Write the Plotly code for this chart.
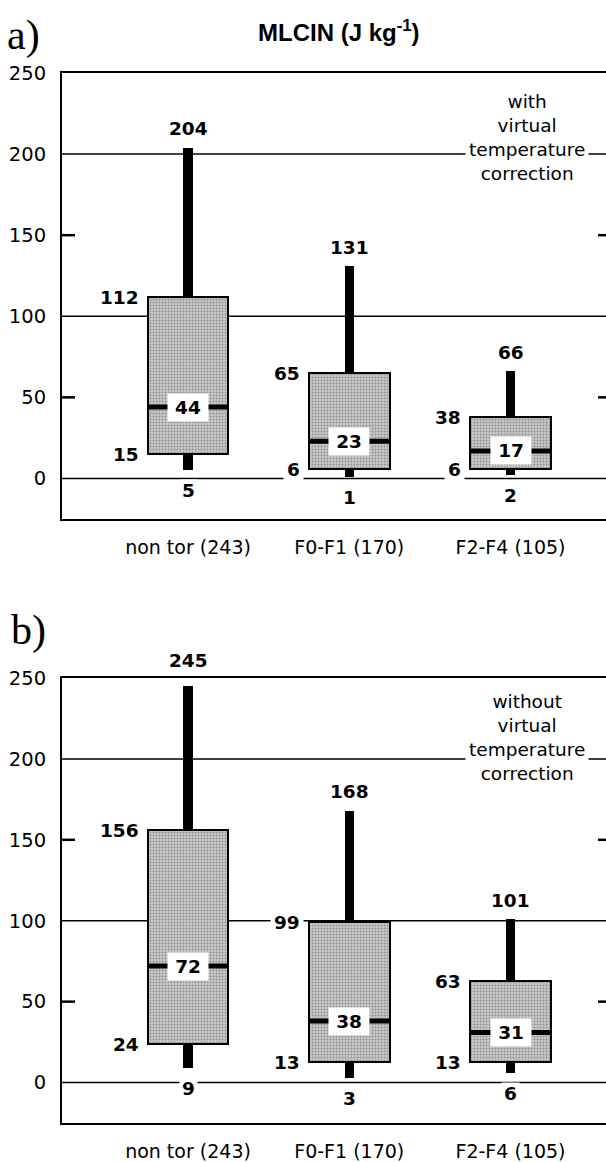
import plotly.graph_objects as go

# ---------------- data ----------------
categories = ["non tor (243)", "F0-F1 (170)", "F2-F4 (105)"]
ytick_vals = [0, 50, 100, 150, 200, 250]
grid_vals = [0, 100, 200]
minor_tick_vals = [50, 150]

# panel a) with virtual temperature correction
a_low = [5, 1, 2]
a_q1 = [15, 6, 6]
a_med = [44, 23, 17]
a_q3 = [112, 65, 38]
a_high = [204, 131, 66]

# panel b) without virtual temperature correction
b_low = [9, 3, 6]
b_q1 = [24, 13, 13]
b_med = [72, 38, 31]
b_q3 = [156, 99, 63]
b_high = [245, 168, 101]

# ---------------- layout constants ----------------
W, H = 606, 1162
ML = 62
PLOT_W = W - ML
PX_PER_CAT = 161.25
X0 = -(188 - ML) / PX_PER_CAT
X_RANGE = [X0, X0 + PLOT_W / PX_PER_CAT]
Y_RANGE = [-25, 250]

SANS = "DejaVu Sans"
BOLD_SIZE = 18.5


def px_x(px):
    return (px - ML) / PLOT_W


def px_y(py):
    return 1 - py / H


fig = go.Figure()

panels = [
    dict(xa="x", ya="y", low=a_low, q1=a_q1, med=a_med, q3=a_q3, high=a_high,
         top=73, bottom=519, note="with<br>virtual<br>temperature<br>correction", note_y=210),
    dict(xa="x2", ya="y2", low=b_low, q1=b_q1, med=b_med, q3=b_q3, high=b_high,
         top=678, bottom=1123, note="without<br>virtual<br>temperature<br>correction", note_y=213),
]

xs = list(range(len(categories)))
annotations = []
shapes = []

for p in panels:
    xa, ya = p["xa"], p["ya"]
    # whiskers (thick black bars)
    fig.add_trace(go.Bar(
        x=xs, y=[h - l for h, l in zip(p["high"], p["low"])], base=p["low"],
        width=0.056, marker=dict(color="black", line=dict(width=0)),
        xaxis=xa, yaxis=ya, showlegend=False, hoverinfo="skip"))
    # boxes (stippled gray)
    fig.add_trace(go.Bar(
        x=xs, y=[q3 - q1 for q3, q1 in zip(p["q3"], p["q1"])], base=p["q1"],
        width=0.5,
        marker=dict(color="#c9c9c9", line=dict(color="black", width=2),
                    pattern=dict(shape=".", fgcolor="#555555", size=3,
                                 solidity=0.35, fillmode="overlay")),
        xaxis=xa, yaxis=ya, showlegend=False, hoverinfo="skip"))
    # median lines
    mx, my = [], []
    for i, m in zip(xs, p["med"]):
        mx += [i - 0.25, i + 0.25, None]
        my += [m, m, None]
    fig.add_trace(go.Scatter(x=mx, y=my, mode="lines",
                             line=dict(color="black", width=5),
                             xaxis=xa, yaxis=ya, showlegend=False, hoverinfo="skip"))

    px_per_unit = (p["bottom"] - p["top"]) / (Y_RANGE[1] - Y_RANGE[0])
    lab_font = dict(family=SANS, size=BOLD_SIZE, color="black", weight="bold")
    for i in xs:
        # upper whisker label
        top_gap = (Y_RANGE[1] - p["high"][i]) * px_per_unit
        annotations.append(dict(x=i, y=p["high"][i], xref=xa, yref=ya, text=str(p["high"][i]),
                                showarrow=False, yanchor="middle",
                                yshift=26 if top_gap < 30 else 19, font=lab_font))
        # lower whisker label
        annotations.append(dict(x=i, y=p["low"][i], xref=xa, yref=ya, text=str(p["low"][i]),
                                showarrow=False, yanchor="middle", yshift=-20, height=16,
                                bgcolor="white", borderpad=2, font=lab_font))
        # q3 label
        annotations.append(dict(x=i - 0.25, y=p["q3"][i], xref=xa, yref=ya, text=str(p["q3"][i]),
                                showarrow=False, xanchor="right", yanchor="middle", xshift=-5,
                                height=18, bgcolor="white", borderpad=3, font=lab_font))
        # q1 label
        annotations.append(dict(x=i - 0.25, y=p["q1"][i], xref=xa, yref=ya, text=str(p["q1"][i]),
                                showarrow=False, xanchor="right", yanchor="middle", xshift=-5,
                                height=18, bgcolor="white", borderpad=3, font=lab_font))
        # median label
        annotations.append(dict(x=i, y=p["med"][i], xref=xa, yref=ya, text=str(p["med"][i]),
                                showarrow=False, yanchor="middle", width=34, height=21,
                                bgcolor="white", borderpad=3, font=lab_font))
    # side note
    annotations.append(dict(x=2.10, y=p["note_y"], xref=xa, yref=ya, text=p["note"],
                            showarrow=False, yanchor="middle", align="center",
                            bgcolor="white", borderpad=3,
                            font=dict(family=SANS, size=18.5, color="black")))
    # gridlines at 0,100,200
    for g in grid_vals:
        shapes.append(dict(type="line", xref=f"{xa} domain", yref=ya, x0=0, x1=1, y0=g, y1=g,
                           line=dict(color="black", width=1.5), layer="below"))
    # short inner ticks at 50,150 (left and right)
    for t in minor_tick_vals:
        shapes.append(dict(type="line", xref=f"{xa} domain", yref=ya, x0=0, x1=13 / PLOT_W,
                           y0=t, y1=t, line=dict(color="black", width=2.5), layer="above"))
        shapes.append(dict(type="line", xref=f"{xa} domain", yref=ya, x0=1 - 8 / PLOT_W, x1=1,
                           y0=t, y1=t, line=dict(color="black", width=2.5), layer="above"))

# panel titles
annotations.append(dict(x=px_x(339), y=px_y(31), xref="paper", yref="paper",
                        text="MLCIN (J kg<sup>-1</sup>)", showarrow=False,
                        xanchor="center", yanchor="middle",
                        font=dict(family="Liberation Sans", size=24, color="black", weight="bold")))
annotations.append(dict(x=px_x(5), y=px_y(36), xref="paper", yref="paper", text="a)",
                        showarrow=False, xanchor="left", yanchor="middle",
                        font=dict(family="Liberation Serif", size=42, color="black")))
annotations.append(dict(x=px_x(9), y=px_y(630), xref="paper", yref="paper", text="b)",
                        showarrow=False, xanchor="left", yanchor="middle",
                        font=dict(family="Liberation Serif", size=42, color="black")))

xaxis_common = dict(range=X_RANGE, tickvals=xs, ticktext=categories, showgrid=False,
                    zeroline=False, showline=True, mirror=True, linecolor="black", linewidth=2,
                    ticks="", ticklabelstandoff=10, automargin=False,
                    tickfont=dict(family=SANS, size=19, color="black"), fixedrange=True)
yaxis_common = dict(range=Y_RANGE, tickvals=ytick_vals, showgrid=False, zeroline=False,
                    showline=True, mirror=False, linecolor="black", linewidth=2,
                    ticks="", ticklabelstandoff=10, automargin=False,
                    tickfont=dict(family=SANS, size=19.5, color="black"))

fig.update_layout(
    width=W, height=H,
    margin=dict(l=ML, r=0, t=0, b=0, autoexpand=False),
    paper_bgcolor="white", plot_bgcolor="white",
    barmode="overlay", bargap=0,
    xaxis=dict(**xaxis_common, domain=[0, 1], anchor="y"),
    yaxis=dict(**yaxis_common, domain=[px_y(519), px_y(73)], anchor="x"),
    xaxis2=dict(**xaxis_common, domain=[0, 1], anchor="y2"),
    yaxis2=dict(**yaxis_common, domain=[px_y(1123), px_y(678)], anchor="x2"),
    annotations=annotations,
    shapes=shapes,
)

fig.write_html("out.html")
